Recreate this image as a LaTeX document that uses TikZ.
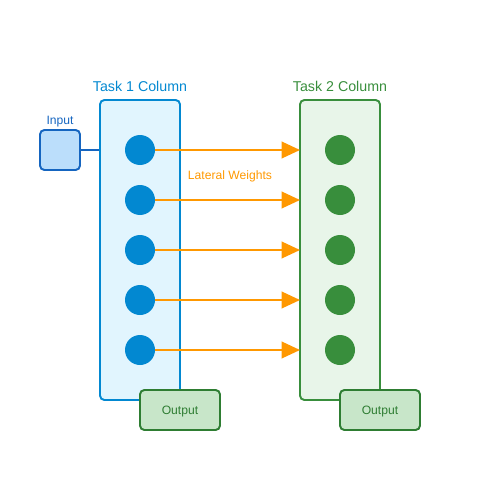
\documentclass[tikz,border=0pt]{standalone}
\usepackage{fontspec}
\setmainfont{Liberation Sans}
\usetikzlibrary{arrows.meta}
\definecolor{tblue}{HTML}{0288D1}
\definecolor{tbluefill}{HTML}{E1F5FE}
\definecolor{tgreen}{HTML}{388E3C}
\definecolor{tgreenfill}{HTML}{E8F5E9}
\definecolor{inblue}{HTML}{1565C0}
\definecolor{infill}{HTML}{BBDEFB}
\definecolor{outgreen}{HTML}{2E7D32}
\definecolor{outfill}{HTML}{C8E6C9}
\definecolor{lorange}{HTML}{FF9800}
\begin{document}
\begin{tikzpicture}[x=0.02cm,y=-0.02cm,
  colbox/.style={rounded corners=2.5pt,line width=1.1pt,minimum width=80*0.02cm,minimum height=300*0.02cm,inner sep=0pt},
  unitA/.style={circle,fill=tblue,minimum size=30*0.02cm,inner sep=0pt},
  unitB/.style={circle,fill=tgreen,minimum size=30*0.02cm,inner sep=0pt},
  outbox/.style={draw=outgreen,fill=outfill,rounded corners=2.5pt,line width=1.1pt,minimum width=80*0.02cm,minimum height=40*0.02cm,inner sep=0pt},
  small/.style={font=\fontsize{6.9}{8}\selectfont},
  lateral/.style={draw=lorange,line width=1.1pt,-{Triangle[length=10.5pt,width=9.5pt]}},
  title/.style={font=\fontsize{8.1}{9}\selectfont}
]
\useasboundingbox (0,0) rectangle (500,500);
\node[colbox,draw=tblue,fill=tbluefill] (c1) at (140,250) {};
\node[colbox,draw=tgreen,fill=tgreenfill] (c2) at (340,250) {};
\node[title,text=tblue] (t1) at (140,86) {Task 1 Column};
\node[title,text=tgreen] (t2) at (340,86) {Task 2 Column};
\node[draw=inblue,fill=infill,rounded corners=2.5pt,line width=1.1pt,minimum size=40*0.02cm,inner sep=0pt] (in) at (60,150) {};
\node[small,text=inblue] (inl) at (60,121.5) {Input};
\draw[inblue,line width=1.1pt] (in.east) -- (c1.west |- in.east);
\foreach \i/\y in {1/150,2/200,3/250,4/300,5/350}{
  \node[unitA] (a\i) at (140,\y) {};
  \node[unitB] (b\i) at (340,\y) {};
  \coordinate (e\i) at (300,\y);
  \draw[lateral] (a\i.east) -- (e\i);
}
\node[small,text=lorange] (lw) at (230,176.5) {Lateral Weights};
\node[outbox] (o1) at (180,410) {};
\node[outbox] (o2) at (380,410) {};
\node[small,text=outgreen] (ol1) at (180,411.5) {Output};
\node[small,text=outgreen] (ol2) at (380,411.5) {Output};
\end{tikzpicture}
\end{document}
